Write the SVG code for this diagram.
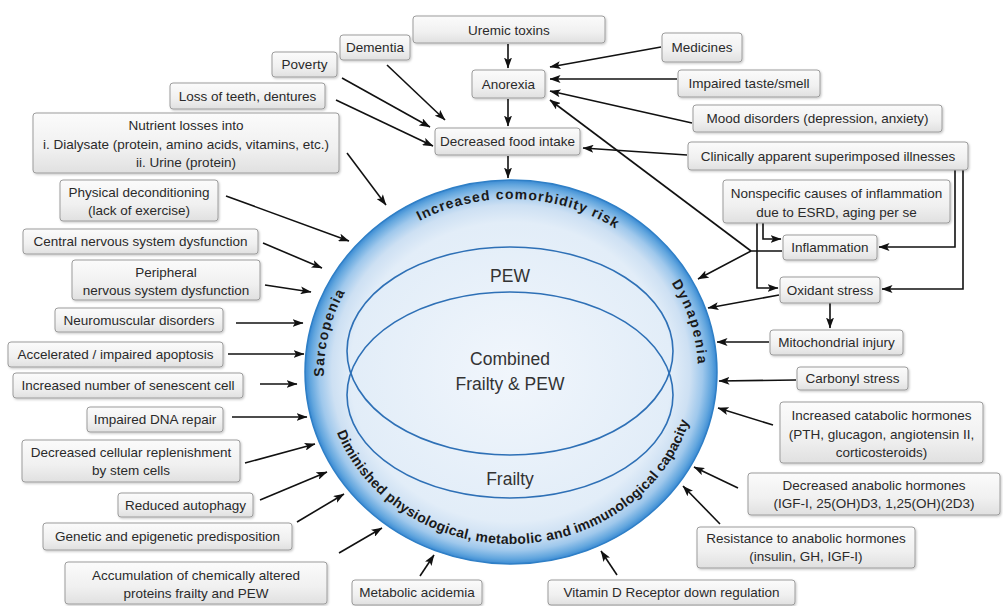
<svg xmlns="http://www.w3.org/2000/svg" width="1003" height="606" viewBox="0 0 1003 606">
<style>
.box{fill:url(#boxg);stroke:#9c9c9c;stroke-width:1;filter:url(#sh)}
.t{font-family:"Liberation Sans",Arial,sans-serif;font-size:13.5px;fill:#2a2a2a;text-anchor:middle}
.big{font-family:"Liberation Sans",Arial,sans-serif;font-size:17.5px;fill:#333;text-anchor:middle}
.arc{font-family:"Liberation Sans",Arial,sans-serif;font-size:14px;font-weight:bold;fill:#1a1a1a}
.c{fill:none;stroke:#111;stroke-width:1.6;marker-end:url(#ah)}
.inner{fill:none;stroke:#2e70b6;stroke-width:1.6}
</style>
<defs>
<linearGradient id="boxg" x1="0" y1="0" x2="0" y2="1">
<stop offset="0" stop-color="#fbfbfb"/><stop offset="0.6" stop-color="#f0f0f0"/><stop offset="1" stop-color="#e0e0e0"/>
</linearGradient>
<radialGradient id="cg" cx="0.5" cy="0.5" r="0.5">
<stop offset="0" stop-color="#f1f6fc"/><stop offset="0.78" stop-color="#e2edf8"/><stop offset="0.87" stop-color="#cde0f3"/><stop offset="0.93" stop-color="#9fc8ec"/><stop offset="0.975" stop-color="#62a6de"/><stop offset="1" stop-color="#3a8ad3"/>
</radialGradient>
<filter id="sh" x="-10%" y="-20%" width="120%" height="150%">
<feDropShadow dx="1" dy="1.2" stdDeviation="0.9" flood-color="#000" flood-opacity="0.22"/>
</filter>
<marker id="ah" viewBox="0 0 11 8" refX="10.5" refY="4" markerWidth="11" markerHeight="8" markerUnits="userSpaceOnUse" orient="auto">
<path d="M0,0 L11,4 L0,8 L2.5,4 z" fill="#111"/>
</marker>
<path id="arcTop" d="M511,545 A187,173 0 0 1 511,199 A187,173 0 0 1 511,545"/>
<path id="arcBot" d="M325,372 A186,172 0 0 0 697,372"/>
</defs>
<rect width="1003" height="606" fill="#fff"/>

<g id="circle">
<ellipse cx="511" cy="372" rx="206" ry="192" fill="url(#cg)" stroke="#2f7fc6" stroke-width="1.5"/>
<ellipse class="inner" cx="510" cy="351" rx="163" ry="104"/>
<ellipse class="inner" cx="510" cy="395" rx="163" ry="103"/>
<text class="big" x="510" y="282">PEW</text>
<text class="big" x="510" y="365">Combined</text>
<text class="big" x="510" y="390">Frailty &amp; PEW</text>
<text class="big" x="510" y="485">Frailty</text>
<text class="arc" text-anchor="middle"><textPath href="#arcTop" startOffset="322" textLength="88" lengthAdjust="spacing">Sarcopenia</textPath></text>
<text class="arc" text-anchor="middle"><textPath href="#arcTop" startOffset="573" textLength="205" lengthAdjust="spacing">Increased comorbidity risk</textPath></text>
<text class="arc" text-anchor="middle"><textPath href="#arcTop" startOffset="797" textLength="86" lengthAdjust="spacing">Dynapenia</textPath></text>
<text class="arc" font-size="13.5"><textPath href="#arcBot" startOffset="62" textLength="179" lengthAdjust="spacing">Diminished physiological,</textPath></text>
<text class="arc" font-size="13.5"><textPath href="#arcBot" startOffset="245" textLength="98" lengthAdjust="spacing">metabolic and</textPath></text>
<text class="arc" font-size="13.5"><textPath href="#arcBot" startOffset="347" textLength="165" lengthAdjust="spacing">immunological capacity</textPath></text>
</g>

<g id="connectors">
<path class="c" d="M508,44 L508,68"/>
<path class="c" d="M508,99 L508,126"/>
<path class="c" d="M508,156 L508,178"/>
<path class="c" d="M387,65 L445,120"/>
<path class="c" d="M342,78 L430,127"/>
<path class="c" d="M336,100 L433,146"/>
<path class="c" d="M347,153 L386,205"/>
<path class="c" d="M661,47 L550,67"/>
<path class="c" d="M677,79 L550,79"/>
<path class="c" d="M692,123 L550,91"/>
<path class="c" d="M687,155 L583,148"/>
<path class="c" d="M751,251 L550,100"/>
<path class="c" d="M782,251 L751,251 L698,279"/>
<path class="c" d="M763,223 L763,239 L781,239"/>
<path class="c" d="M757,223 L757,288 L778,288"/>
<path class="c" d="M955,170 L955,247 L879,247"/>
<path class="c" d="M963,170 L963,289 L882,289"/>
<path class="c" d="M779,295 L708,308"/>
<path class="c" d="M830,303 L830,328"/>
<path class="c" d="M769,342 L717,342"/>
<path class="c" d="M796,380 L719,381"/>
<path class="c" d="M773,425 L718,408"/>
<path class="c" d="M738,488 L694,467"/>
<path class="c" d="M720,524 L683,486"/>
<path class="c" d="M617,575 L601,551"/>
<path class="c" d="M420,576 L434,555"/>
<path class="c" d="M226,196 L349,241"/>
<path class="c" d="M263,243 L322,268"/>
<path class="c" d="M265,285 L311,292"/>
<path class="c" d="M236,323 L303,323"/>
<path class="c" d="M228,354 L304,354"/>
<path class="c" d="M260,384 L297,384"/>
<path class="c" d="M232,417 L307,417"/>
<path class="c" d="M245,463 L315,444"/>
<path class="c" d="M260,500 L327,472"/>
<path class="c" d="M297,522 L344,494"/>
<path class="c" d="M339,553 L382,528"/>
</g>

<g id="uremic"><rect class="box" x="413" y="16" width="192" height="27" rx="3"/><text class="t" x="509" y="34.5">Uremic toxins</text></g>
<g id="dementia"><rect class="box" x="340" y="35" width="70" height="25" rx="3"/><text class="t" x="375" y="52">Dementia</text></g>
<g id="poverty"><rect class="box" x="272" y="52" width="65" height="25" rx="3"/><text class="t" x="304.5" y="69">Poverty</text></g>
<g id="teeth"><rect class="box" x="170" y="83" width="155" height="26" rx="3"/><text class="t" x="247.5" y="100.5">Loss of teeth, dentures</text></g>
<g id="nutrient"><rect class="box" x="33" y="113" width="306" height="60" rx="3"/><text class="t" x="186" y="129.5">Nutrient losses into</text><text class="t" x="186" y="148.5">i. Dialysate (protein, amino acids, vitamins, etc.)</text><text class="t" x="186" y="166.5">ii. Urine (protein)</text></g>
<g id="anorexia"><rect class="box" x="472" y="70" width="73" height="28" rx="3"/><text class="t" x="508.5" y="88.5">Anorexia</text></g>
<g id="food"><rect class="box" x="435" y="128" width="145" height="27" rx="3"/><text class="t" x="507.5" y="146">Decreased food intake</text></g>
<g id="medicines"><rect class="box" x="662" y="33" width="80" height="29" rx="3"/><text class="t" x="702" y="52">Medicines</text></g>
<g id="taste"><rect class="box" x="678" y="70" width="142" height="27" rx="3"/><text class="t" x="749" y="88">Impaired taste/smell</text></g>
<g id="mood"><rect class="box" x="693" y="105" width="249" height="27" rx="3"/><text class="t" x="817.5" y="123">Mood disorders (depression, anxiety)</text></g>
<g id="clinical"><rect class="box" x="688" y="142" width="280" height="28" rx="3"/><text class="t" x="828" y="160.5">Clinically apparent superimposed illnesses</text></g>
<g id="nonspecific"><rect class="box" x="723" y="180" width="227" height="43" rx="3"/><text class="t" x="836.5" y="197.5">Nonspecific causes of inflammation</text><text class="t" x="836.5" y="216.5">due to ESRD, aging per se</text></g>
<g id="inflammation"><rect class="box" x="783" y="235" width="94" height="25" rx="3"/><text class="t" x="830" y="252">Inflammation</text></g>
<g id="oxidant"><rect class="box" x="780" y="277" width="100" height="26" rx="3"/><text class="t" x="830" y="294.5">Oxidant stress</text></g>
<g id="mito"><rect class="box" x="770" y="330" width="133" height="25" rx="3"/><text class="t" x="836.5" y="347">Mitochondrial injury</text></g>
<g id="carbonyl"><rect class="box" x="797" y="367" width="111" height="23" rx="3"/><text class="t" x="852.5" y="383">Carbonyl stress</text></g>
<g id="catabolic"><rect class="box" x="780" y="402" width="203" height="61" rx="3"/><text class="t" x="881.5" y="419.5">Increased catabolic hormones</text><text class="t" x="881.5" y="438.5">(PTH, glucagon,  angiotensin II,</text><text class="t" x="881.5" y="456.5">corticosteroids)</text></g>
<g id="anabolic"><rect class="box" x="748" y="473" width="252" height="42" rx="3"/><text class="t" x="874" y="489.5">Decreased anabolic hormones</text><text class="t" x="874" y="507.5">(IGF-I, 25(OH)D3, 1,25(OH)(2D3)</text></g>
<g id="resistance"><rect class="box" x="697" y="527" width="218" height="41" rx="3"/><text class="t" x="806" y="542.5">Resistance to anabolic hormones</text><text class="t" x="806" y="560.5">(insulin, GH, IGF-I)</text></g>
<g id="vitd"><rect class="box" x="548" y="580" width="247" height="25" rx="3"/><text class="t" x="671.5" y="597">Vitamin D Receptor down regulation</text></g>
<g id="acidemia"><rect class="box" x="352" y="580" width="130" height="25" rx="3"/><text class="t" x="417" y="597">Metabolic acidemia</text></g>
<g id="physical"><rect class="box" x="60" y="180" width="158" height="41" rx="3"/><text class="t" x="139" y="196.5">Physical deconditioning</text><text class="t" x="139" y="214.5">(lack of exercise)</text></g>
<g id="cns"><rect class="box" x="23" y="229" width="235" height="25" rx="3"/><text class="t" x="140.5" y="246">Central nervous system dysfunction</text></g>
<g id="peripheral"><rect class="box" x="72" y="260" width="188" height="40" rx="3"/><text class="t" x="166" y="276.5">Peripheral</text><text class="t" x="166" y="294.5">nervous system dysfunction</text></g>
<g id="neuromuscular"><rect class="box" x="55" y="308" width="168" height="24" rx="3"/><text class="t" x="139" y="324.5">Neuromuscular disorders</text></g>
<g id="apoptosis"><rect class="box" x="8" y="342" width="215" height="25" rx="3"/><text class="t" x="115.5" y="359">Accelerated / impaired apoptosis</text></g>
<g id="senescent"><rect class="box" x="13" y="373" width="230" height="25" rx="3"/><text class="t" x="128" y="390">Increased number of senescent cell</text></g>
<g id="dna"><rect class="box" x="87" y="407" width="136" height="25" rx="3"/><text class="t" x="155" y="424">Impaired DNA repair</text></g>
<g id="cellular"><rect class="box" x="22" y="440" width="218" height="42" rx="3"/><text class="t" x="131" y="456.5">Decreased cellular replenishment</text><text class="t" x="131" y="474.5">by stem cells</text></g>
<g id="autophagy"><rect class="box" x="118" y="493" width="135" height="24" rx="3"/><text class="t" x="185.5" y="509.5">Reduced autophagy</text></g>
<g id="genetic"><rect class="box" x="43" y="523" width="249" height="27" rx="3"/><text class="t" x="167.5" y="541">Genetic and epigenetic predisposition</text></g>
<g id="accumulation"><rect class="box" x="65" y="562" width="262" height="42" rx="3"/><text class="t" x="196" y="579.5">Accumulation of chemically altered</text><text class="t" x="196" y="597.5">proteins frailty and PEW</text></g>
</svg>
